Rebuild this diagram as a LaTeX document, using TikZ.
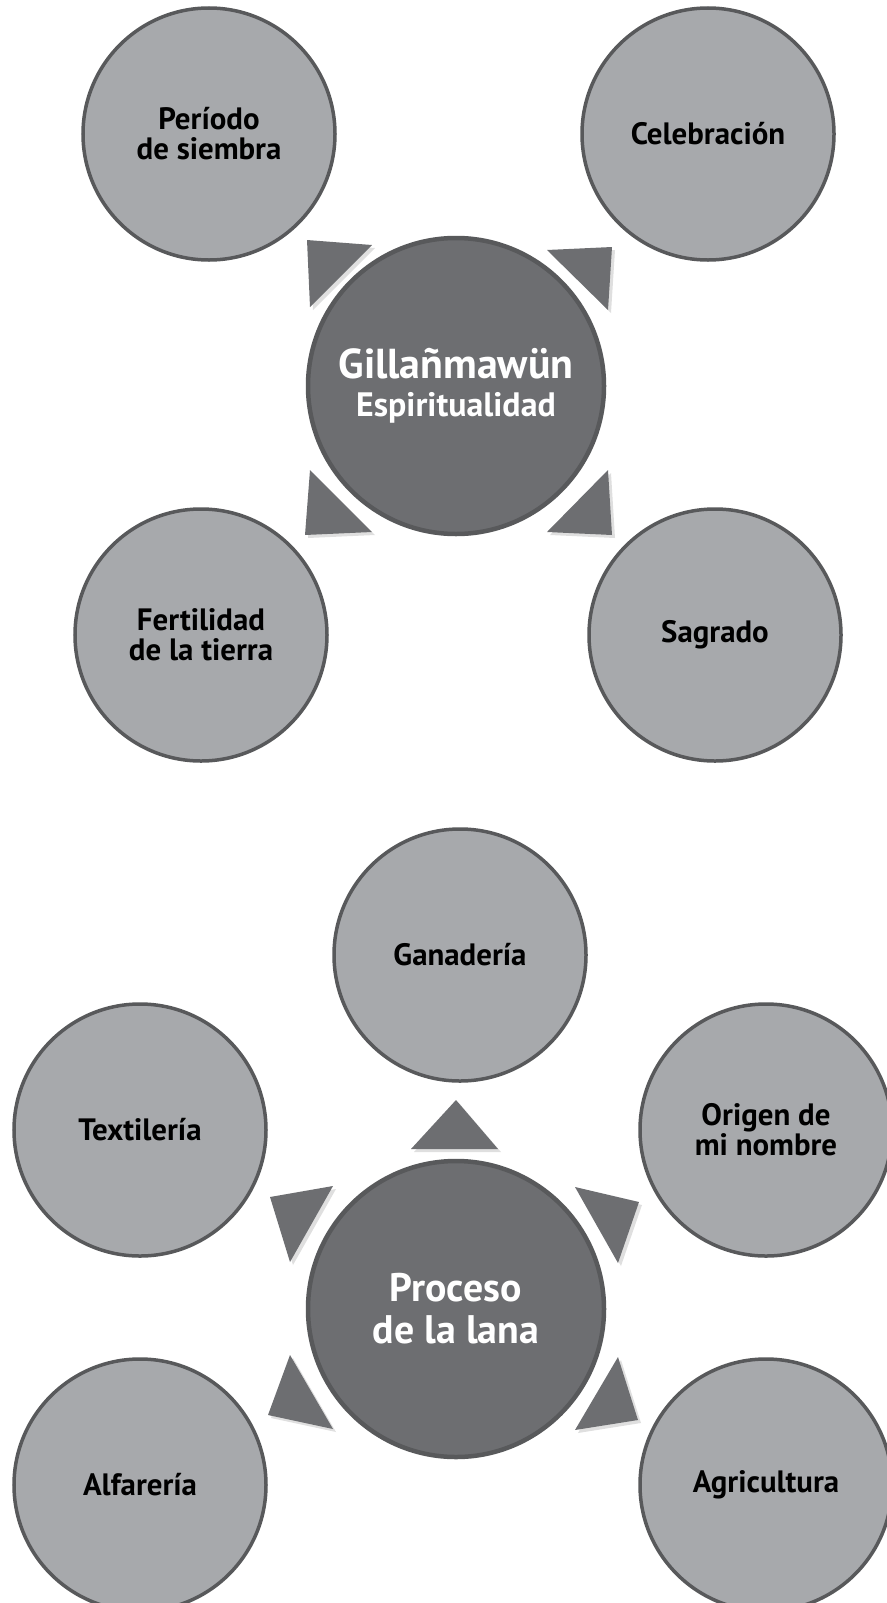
\documentclass[tikz,border=0pt]{standalone}
\usepackage{fontspec}
\setmainfont{PT Sans}
\usetikzlibrary{shadows}
\definecolor{ringgray}{HTML}{58595B}
\definecolor{leafgray}{HTML}{A7A9AC}
\definecolor{hubgray}{HTML}{6D6E71}
\begin{document}
\begin{tikzpicture}[x=1bp, y=-1bp,
    outer/.style={circle, draw=ringgray, fill=leafgray, line width=3.5bp, minimum size=252bp, inner sep=0pt, align=center, font=\fontsize{31}{30}\selectfont\bfseries, text=black},
    hub/.style={circle, draw=ringgray, fill=hubgray, line width=4.5bp, minimum size=296bp, inner sep=0pt, align=center, text=white},
    pointer/.style={fill=hubgray, drop shadow={opacity=0.25, shadow xshift=3bp, shadow yshift=-3bp}}]
    \useasboundingbox (0,0) rectangle (886,1603);
    % Gillanmawun
    \node[hub, font=\fontsize{42}{38}\selectfont\bfseries] (gil) at (456,386) {Gillañmawün\\{\fontsize{34}{38}\selectfont Espiritualidad}};
    \node[outer] (siembra) at (209,134) {Período\\de siembra};
    \node[outer] (celeb) at (708,134) {Celebración};
    \node[outer] (fert) at (201,635) {Fertilidad\\de la tierra};
    \node[outer] (sagr) at (715,635) {Sagrado};
    \fill[pointer] (307,240) -- (372,245) -- (310,307) -- cycle;
    \fill[pointer] (612,247) -- (547,250) -- (608,310) -- cycle;
    \fill[pointer] (305,535) -- (310,470) -- (372,532) -- cycle;
    \fill[pointer] (612,535) -- (608,470) -- (547,532) -- cycle;
    % Proceso de la lana
    \node[hub, font=\fontsize{40}{42}\selectfont\bfseries] (lana) at (456,1309) {Proceso\\de la lana};
    \node[outer] (gana) at (460,955) {Ganadería};
    \node[outer] (text) at (140,1130) {Textilería};
    \node[outer] (orig) at (766,1130) {Origen de\\mi nombre};
    \node[outer] (alfa) at (140,1485) {Alfarería};
    \node[outer] (agri) at (766,1485) {Agricultura};
    \fill[pointer] (456,1100) -- (411,1149) -- (498,1149) -- cycle;
    \fill[pointer] (270,1197) -- (333,1186) -- (290,1262) -- cycle;
    \fill[pointer] (639,1202) -- (575,1187) -- (618,1263) -- cycle;
    \fill[pointer] (268,1415) -- (290,1355) -- (333,1429) -- cycle;
    \fill[pointer] (638,1420) -- (618,1357) -- (575,1430) -- cycle;
\end{tikzpicture}
\end{document}
